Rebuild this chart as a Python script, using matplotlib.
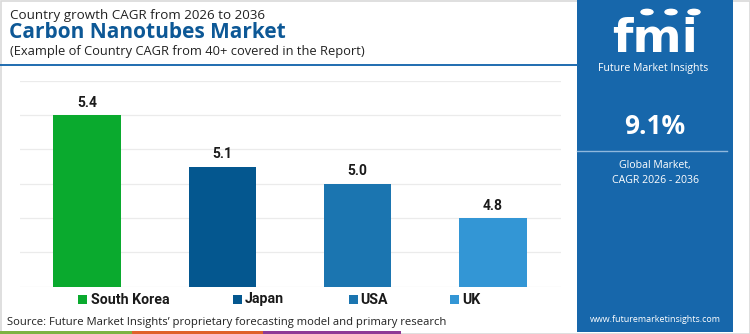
import matplotlib
matplotlib.use("Agg")
import matplotlib.pyplot as plt
from matplotlib.patches import Rectangle, Circle

# ---- data ----
countries = ["South Korea", "Japan", "USA", "UK"]
cagr = [5.4, 5.1, 5.0, 4.8]
bar_colors = ["#0aaa2e", "#04578f", "#1b75b0", "#3396d5"]
title_top = "Country growth CAGR from 2026 to 2036"
title_main = "Carbon Nanotubes Market"
title_sub = "(Example of Country CAGR from 40+ covered in the Report)"
source_txt = "Source: Future Market Insights\u2019 proprietary forecasting model and primary research"
global_cagr = "9.1%"
global_lbl = "Global Market,\nCAGR 2026 - 2036"
website = "www.futuremarketinsights.com"

W, H = 750, 334
fig = plt.figure(figsize=(W / 100, H / 100), dpi=100)
fig.patch.set_facecolor("white")

def fx(x):
    return x / W

def fy(y):
    return 1 - y / H

FONT = ["Roboto", "DejaVu Sans"]
OPEN = ["Open Sans", "DejaVu Sans"]
PANEL = "#1767ab"

# border
fig.add_artist(Rectangle((fx(0.5), fy(333.5)), fx(749), 1 - 1 / H, transform=fig.transFigure,
                         fill=False, edgecolor="#d9d9d9", lw=1.2))

# ---- axes ----
ax = fig.add_axes([fx(19.5), fy(286.7), fx(541), (286.7 - 80.7) / H])
x = list(range(len(countries)))
ax.bar(x, [v - 4.4 for v in cagr], bottom=4.4, width=0.5, color=bar_colors, zorder=3)
ax.set_xlim(-0.5, 3.5)
ax.set_ylim(4.4, 5.6)
ax.set_yticks([4.4, 4.6, 4.8, 5.0, 5.2, 5.4, 5.6])
ax.grid(axis="y", color="#ebebeb", lw=0.9, zorder=0)
ax.tick_params(left=False, bottom=False, labelleft=False, labelbottom=False)
for s in ax.spines.values():
    s.set_visible(False)
for xi, v in zip(x, cagr):
    ax.annotate(f"{v:.1f}", (xi, v), xytext=(0, 9), textcoords="offset points",
                ha="center", va="center", fontsize=10, fontweight="bold",
                color="#1a1a1a", family=FONT)

# ---- titles ----
fig.text(fx(10), fy(15), title_top, fontsize=9.6, color="#222222", va="center", family=OPEN)
fig.text(fx(9), fy(33), title_main, fontsize=15, fontweight="bold", color="#0d5896", va="center",
         family=OPEN)
fig.text(fx(10), fy(51), title_sub, fontsize=9.3, color="#222222", va="center", family=OPEN)
fig.add_artist(plt.Line2D([fx(0), fx(577)], [fy(65), fy(65)], transform=fig.transFigure,
                          color="#1f6cb0", lw=1.4))

# ---- legend ----
leg_items = [(78, 91), (233, 245), (349, 360), (450, 462)]
for (sx, tx), name, col in zip(leg_items, countries, bar_colors):
    fig.add_artist(Rectangle((fx(sx), fy(304)), fx(9), 9 / H, transform=fig.transFigure,
                             color=col, lw=0))
    fig.text(fx(tx), fy(299.5), name, fontsize=10.2, fontweight="bold", color="#1a1a1a",
             va="center", ha="left", family=FONT)

# ---- source ----
fig.text(fx(7), fy(322), source_txt, fontsize=8.1, color="#222222", va="center", family=OPEN)

# bottom strip
for x0, x1, c in [(0, 132, "#7cb342"), (132, 263, "#e0622b"), (263, 401, "#8e3a96")]:
    fig.add_artist(Rectangle((fx(x0), 0), fx(x1 - x0), 3 / H, transform=fig.transFigure, color=c, lw=0))

# ---- right panel ----
fig.add_artist(Rectangle((fx(577), fy(332)), fx(156), 332 / H, transform=fig.transFigure,
                         color=PANEL, lw=0))
# logo
fig.text(fx(655), fy(52), "fmi", fontsize=34, fontweight="bold", color="white", ha="center",
         va="baseline", family=["DejaVu Sans"])
for yy in range(20, 56, 5):
    fig.add_artist(plt.Line2D([fx(600), fx(712)], [fy(yy), fy(yy)], transform=fig.transFigure,
                              color=PANEL, lw=1.0))
for cx in [647, 671, 694]:
    fig.add_artist(Circle((fx(cx), fy(12)), 6 / W, transform=fig.transFigure, color="white"))
fig.text(fx(653), fy(68), "Future Market Insights", fontsize=7.6, color="white", ha="center",
         va="center", family=OPEN)
fig.text(fx(655), fy(126), global_cagr, fontsize=19, fontweight="bold", color="white", ha="center",
         va="center", family=OPEN)
fig.add_artist(plt.Line2D([fx(577), fx(727)], [fy(151), fy(151)], transform=fig.transFigure,
                          color="#8fb8dd", lw=1.0))
fig.text(fx(655), fy(173), global_lbl, fontsize=7.6, color="white", ha="center", va="center",
         linespacing=1.6, family=OPEN)
fig.text(fx(655), fy(319), website, fontsize=6.4, color="white", ha="center", va="center",
         family=OPEN)

fig.savefig("out.png", dpi=100)
